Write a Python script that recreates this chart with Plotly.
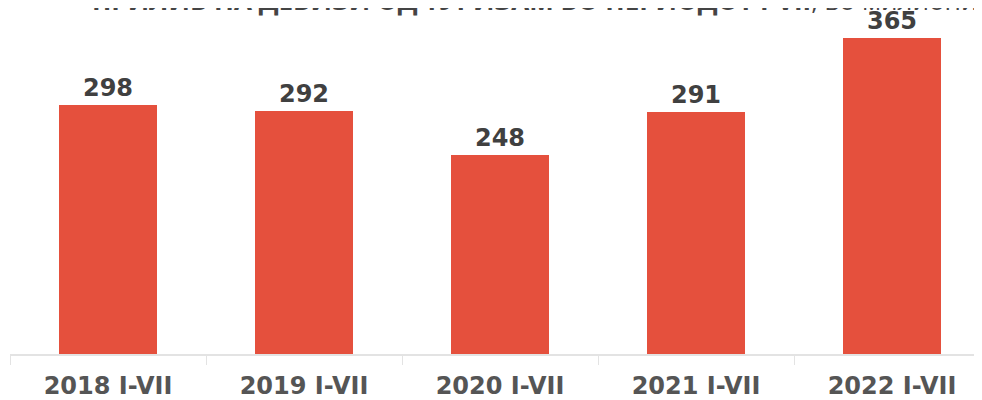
import plotly.graph_objects as go

categories = ["2018 I-VII", "2019 I-VII", "2020 I-VII", "2021 I-VII", "2022 I-VII"]
values = [298, 292, 248, 291, 365]
title_text = "<b>ПРИЛИВ НА ДЕВИЗИ ОД ТУРИЗАМ ВО ПЕРИОДОТ I-VII</b>, во милиони евра"

W, H = 982, 400
ml, mr, mt, mb = 2, 0, 12, 54
plot_h = H - mt - mb
plot_w = W - ml - mr

fig = go.Figure(go.Bar(
    x=categories, y=values,
    marker=dict(color="#E5503D", line=dict(width=0)),
    width=0.5,
    text=[str(v) for v in values],
    textposition="outside",
    cliponaxis=False,
    textfont=dict(family="DejaVu Sans", size=24, color="#404040", weight="bold"),
))

fig.add_annotation(
    text=title_text, xref="paper", yref="paper",
    x=(82 - ml) / plot_w, y=1.0,
    xanchor="left", yanchor="bottom", showarrow=False,
    font=dict(family="Open Sans", size=26, color="#444444"),
)

fig.update_layout(
    width=W, height=H,
    margin=dict(l=ml, r=mr, t=mt, b=mb),
    paper_bgcolor="white", plot_bgcolor="white",
    showlegend=False,
    xaxis=dict(
        range=[-0.5, 4.5], showgrid=False, showline=True, linecolor="#e3e3e3", linewidth=2,
        ticks="outside", tickson="boundaries", ticklen=9, tickcolor="#e3e3e3", tickwidth=1,
        ticklabelstandoff=9,
        tickfont=dict(family="DejaVu Sans", size=24, color="#555555", weight="bold"),
    ),
    yaxis=dict(range=[49, 49 + plot_h], visible=False),
)

fig.write_html("out.html")
